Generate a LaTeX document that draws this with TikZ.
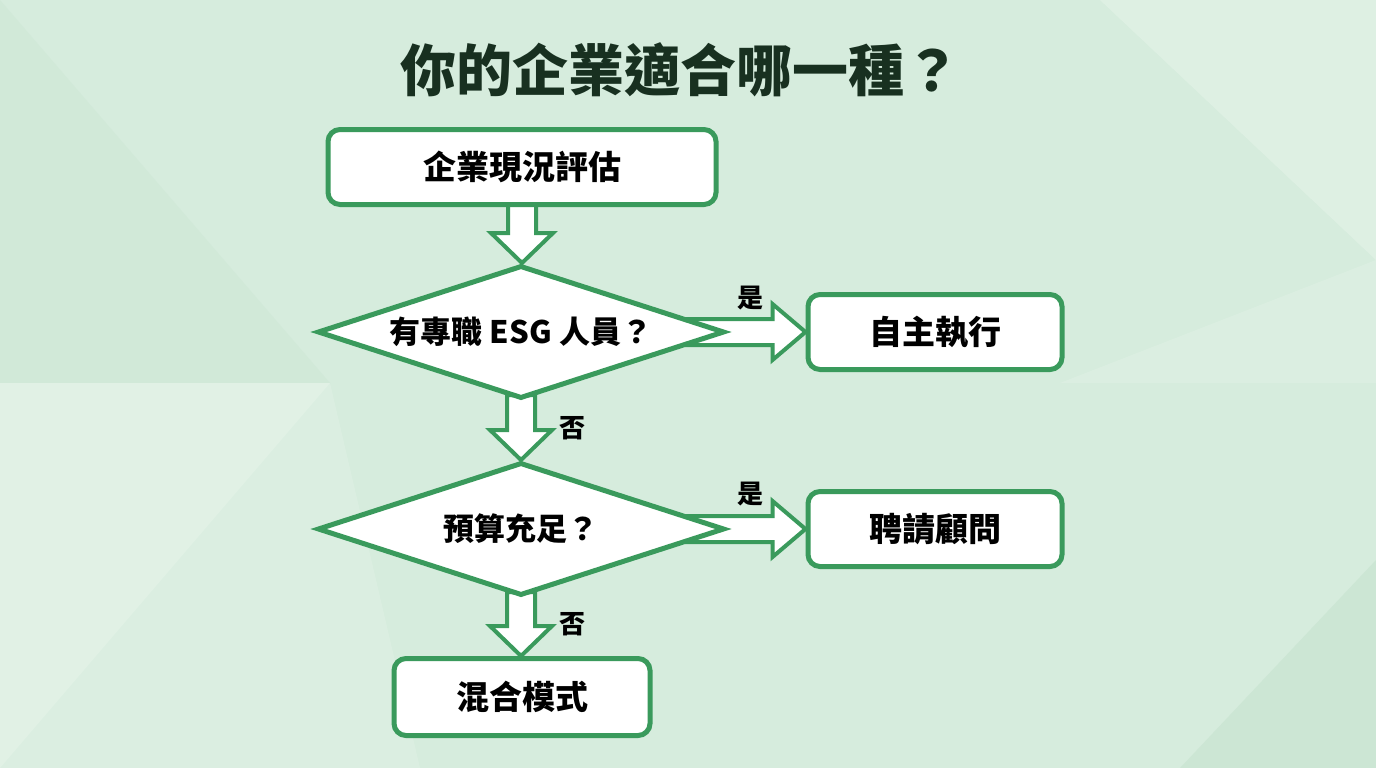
\documentclass[tikz,border=0pt]{standalone}
\usepackage{fontspec}
\newfontfamily\cjk{Noto Sans CJK TC}
\usepackage{tikz}
\usetikzlibrary{
    positioning,      % Required for relative placement
    shapes.geometric, % Required for the diamond nodes
    calc              % Required for the hollow arrows
}

\definecolor{flowgreen}{RGB}{58,154,92}
\definecolor{titleink}{RGB}{24,48,32}
\definecolor{mintbase}{RGB}{214,236,221}
\definecolor{mintlight}{RGB}{228,243,232}
\definecolor{mintdark}{RGB}{202,229,210}

\pgfdeclarelayer{bg}
\pgfdeclarelayer{flow}
\pgfsetlayers{bg,flow,main}

\tikzset{
    stepbox/.style={draw=flowgreen, line width=5pt, fill=white, rounded corners=12pt,
        inner sep=0pt, font=\cjk\bfseries\fontsize{33}{40}\selectfont},
    question/.style={diamond, draw=flowgreen, line width=5pt, fill=white, aspect=3.06,
        inner sep=0pt, minimum width=407pt, minimum height=133pt,
        font=\cjk\bfseries\fontsize{31}{38}\selectfont},
    answer/.style={font=\cjk\bfseries\fontsize{26}{30}\selectfont},
    hollowarrow/.style={draw=flowgreen, line width=4pt, fill=white, line join=miter}
}

% hollow block arrows, from node to node
\newcommand{\hollowdown}[2]{%
    \draw[hollowarrow] let \p1=(#1.south), \p2=(#2.north) in
        (\x1-14pt,\y1+6pt) -- (\x1-14pt,\y2+30pt) -- (\x1-31pt,\y2+30pt) -- (\x1,\y2)
        -- (\x1+31pt,\y2+30pt) -- (\x1+14pt,\y2+30pt) -- (\x1+14pt,\y1+6pt) -- cycle;}
\newcommand{\hollowright}[2]{%
    \draw[hollowarrow] let \p1=(#1.east), \p2=(#2.west) in
        (\x1-40pt,\y1+13pt) -- (\x2-33pt,\y1+13pt) -- (\x2-33pt,\y1+28pt) -- (\x2,\y1)
        -- (\x2-33pt,\y1-28pt) -- (\x2-33pt,\y1-13pt) -- (\x1-40pt,\y1-13pt) -- cycle;}

\begin{document}
\begin{tikzpicture}[x=1pt, y=-1pt]
    \useasboundingbox (0,0) rectangle (1376,768);

    % Background
    \begin{pgfonlayer}{bg}
        \fill[mintbase] (0,0) rectangle (1376,768);
        \fill[mintdark, opacity=0.4] (0,0) -- (330,383) -- (0,383) -- cycle;
        \fill[mintlight, opacity=0.8] (0,383) -- (330,383) -- (0,768) -- cycle;
        \fill[mintlight, opacity=0.6] (1376,0) -- (1100,0) -- (1376,260) -- cycle;
        \fill[mintlight, opacity=0.4] (1376,260) -- (1060,383) -- (1376,383) -- cycle;
        \fill[mintdark, opacity=0.8] (1376,560) -- (1376,768) -- (1180,768) -- cycle;
        \fill[mintlight, opacity=0.4] (0,768) -- (330,383) -- (420,768) -- cycle;
    \end{pgfonlayer}

    % Title
    \node[titleink, font=\cjk\bfseries\fontsize{56}{66}\selectfont] (title) at (680,70) {你的企業適合哪一種？};

    % Flow
    \node[stepbox, minimum width=388pt, minimum height=75pt] (assess) at (522,167) {企業現況評估};
    \node[question] (staff) at (521,332) {有專職 ESG 人員？};
    \node[stepbox, minimum width=254pt, minimum height=75pt] (self) at (935,332) {自主執行};
    \node[question] (budget) at (521,529) {預算充足？};
    \node[stepbox, minimum width=254pt, minimum height=75pt] (consult) at (935,529) {聘請顧問};
    \node[stepbox, minimum width=256pt, minimum height=77pt] (mixed) at (522,697) {混合模式};

    % Labels
    \node[answer] (yes1) at (750,298) {是};
    \node[answer] (no1) at (572,428) {否};
    \node[answer] (yes2) at (750,494) {是};
    \node[answer] (no2) at (572,624) {否};

    % Arrows
    \begin{pgfonlayer}{flow}
        \hollowdown{assess}{staff}
        \hollowright{staff}{self}
        \hollowdown{staff}{budget}
        \hollowright{budget}{consult}
        \hollowdown{budget}{mixed}
    \end{pgfonlayer}
\end{tikzpicture}
\end{document}
